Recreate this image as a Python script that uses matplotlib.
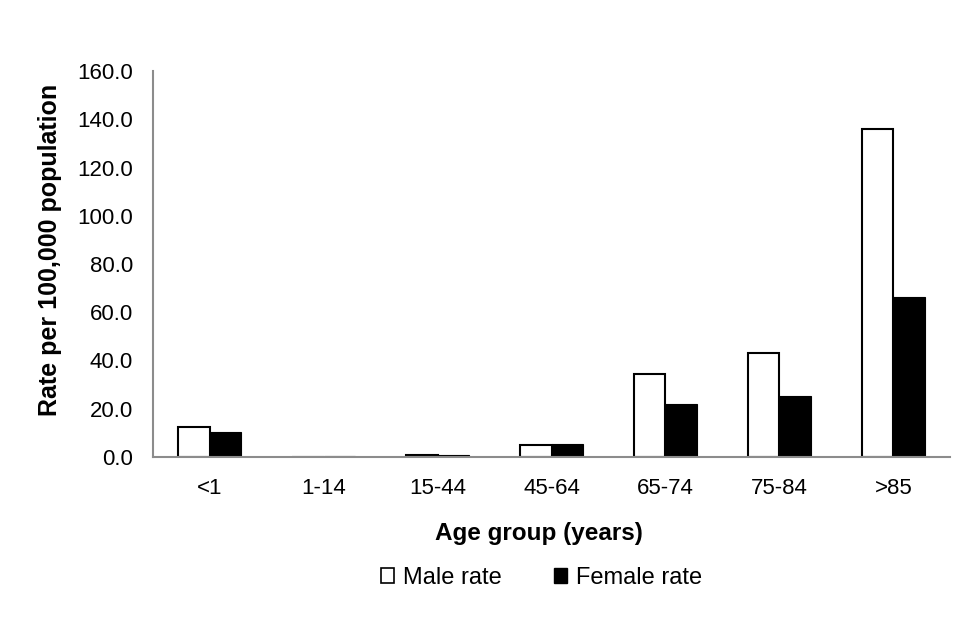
import matplotlib
matplotlib.use("Agg")
import matplotlib.pyplot as plt
import numpy as np
from matplotlib.patches import Patch

plt.rcParams['font.family'] = ['Liberation Sans', 'DejaVu Sans']

categories = ["<1", "1-14", "15-44", "45-64", "65-74", "75-84", ">85"]
male_rate = [12.4, 0.1, 0.8, 5.0, 34.3, 43.2, 136.0]
female_rate = [10.2, 0.4, 0.8, 5.4, 22.0, 25.3, 66.2]
yticks = [0, 20, 40, 60, 80, 100, 120, 140, 160]

fig = plt.figure(figsize=(9.6, 6.4), dpi=100)
ax = fig.add_axes([0.159, 0.286, 0.831, 0.603])

x = np.arange(len(categories))
w = 0.277
ax.bar(x - w / 2, male_rate, w, facecolor="white", edgecolor="black", linewidth=1.5, label="Male rate")
ax.bar(x + w / 2, female_rate, w, facecolor="black", edgecolor="black", linewidth=0.8, label="Female rate")

ax.set_xlim(-0.5, len(categories) - 0.5)
ax.set_ylim(0, 160)
ax.set_yticks(yticks)
ax.set_yticklabels([f"{v:.1f}" for v in yticks])
ax.set_xticks(x)
ax.set_xticklabels(categories)
ax.tick_params(axis="both", length=0, labelsize=16, colors="#000000")
ax.tick_params(axis="y", pad=14)
ax.tick_params(axis="x", pad=15)

for s in ["top", "right"]:
    ax.spines[s].set_visible(False)
for s in ["left", "bottom"]:
    ax.spines[s].set_color("#8c8c8c")
    ax.spines[s].set_linewidth(1.5)

ax.set_xlabel("Age group (years)", fontsize=17.5, fontweight="bold")
ax.xaxis.set_label_coords(0.484, -0.168)
ax.set_ylabel("Rate per 100,000 population", fontsize=18, fontweight="bold")
ax.yaxis.set_label_coords(-0.114, 0.536)

handles = [Patch(facecolor="white", edgecolor="black", linewidth=1.2),
           Patch(facecolor="black", edgecolor="black")]
fig.legend(handles, ["Male rate", "Female rate"], loc="center", bbox_to_anchor=(0.564, 0.097),
           ncol=2, frameon=False, fontsize=17, handlelength=0.55, handleheight=0.55,
           handletextpad=0.4, columnspacing=2.2)

fig.savefig("out.png", dpi=100)
